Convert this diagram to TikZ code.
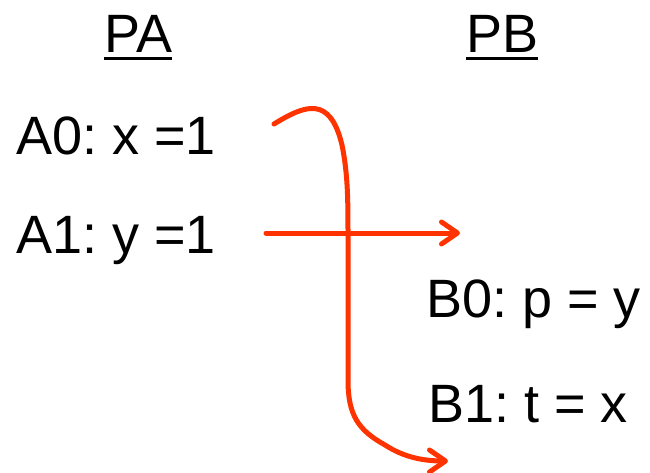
\documentclass[tikz,border=0pt]{standalone}
\usepackage{fontspec}
\setmainfont{Liberation Sans}
\usetikzlibrary{arrows.meta}
\definecolor{arrowred}{HTML}{FF3300}
\frenchspacing
\begin{document}
\begin{tikzpicture}[x=1pt,y=-1pt,
  lbl/.style={inner sep=0pt, anchor=base west, font=\fontsize{54}{60}\selectfont},
  uline/.style={line width=3pt},
  conn/.style={draw=arrowred, line width=5pt, line cap=round,
    -{Straight Barb[length=16pt,width=22pt,line cap=round,line join=round]}}]
\useasboundingbox (0,0) rectangle (650,473);
\node[lbl] (pa) at (104,53) {PA};
\node[lbl] (pb) at (466,53) {PB};
\draw[uline] ([yshift=-6pt]pa.base west) -- ([yshift=-6pt]pa.base east);
\draw[uline] ([yshift=-6pt]pb.base west) -- ([yshift=-6pt]pb.base east);
\node[lbl] (a0) at (16,155) {A0: x =1};
\node[lbl] (a1) at (16,253) {A1: y =1};
\node[lbl] (b0) at (426,317) {B0: p = y};
\node[lbl] (b1) at (428,422) {B1: t = x};
\coordinate (hs) at (266,233);
\coordinate (he) at (460,233);
\coordinate (cs) at (274,124);
\coordinate (ce) at (448,461);
\draw[conn] (hs) -- (he);
\draw[conn] (cs) .. controls (305,105) and (330,95) .. (342,145)
  .. controls (348,175) and (348,200) .. (348,240)
  -- (348,380) .. controls (348,415) and (358,430) .. (385,445)
  .. controls (405,458) and (425,461) .. (ce);
\end{tikzpicture}
\end{document}
